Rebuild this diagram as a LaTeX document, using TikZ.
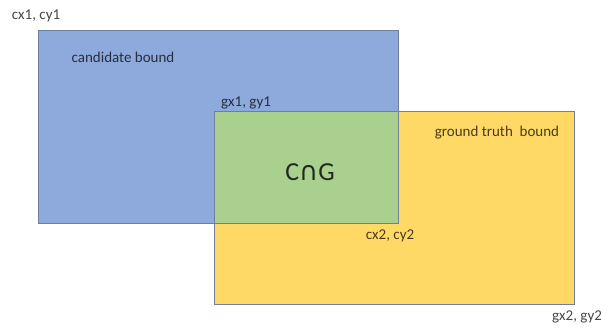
\documentclass[tikz,border=0pt]{standalone}
\usepackage{fontspec}
\setmainfont{Carlito}
\newfontfamily\symfont{DejaVu Sans}
\definecolor{cblue}{HTML}{8EA9DB}
\definecolor{cyellow}{HTML}{FFD966}
\definecolor{cgreen}{HTML}{A9D08E}
\definecolor{bordc}{HTML}{6F7F99}
\begin{document}
\begin{tikzpicture}[x=1pt,y=-1pt,
  box/.style={draw=bordc,line width=0.8pt,inner sep=0pt,outer sep=0pt,anchor=north west},
  lbl/.style={font=\fontsize{15}{17}\selectfont,text=black,text opacity=0.72,inner sep=0pt}]
\useasboundingbox (0,0) rectangle (601,328);
\node[box,fill=cyellow,minimum width=360pt,minimum height=193pt] (gt) at (214,111) {};
\node[box,fill=cblue,minimum width=360pt,minimum height=193pt] (cand) at (38,30) {};
\node[box,fill=cgreen,minimum width=184pt,minimum height=112pt] (inter) at (214,111) {};
\node[lbl] (c1) at (36,16) {cx1, cy1};
\node[lbl] (cb) at (123,57) {candidate bound};
\node[lbl] (g1) at (246,103) {gx1, gy1};
\node[font=\fontsize{26}{28}\selectfont,text=black,text opacity=0.8,inner sep=0pt] (cg) at (310,172) {C{\symfont ∩}G};
\node[lbl] (gtb) at (497,133) {ground truth\ \ bound};
\node[lbl] (c2) at (390,236) {cx2, cy2};
\node[lbl] (g2) at (577,317) {gx2, gy2};
\end{tikzpicture}
\end{document}
